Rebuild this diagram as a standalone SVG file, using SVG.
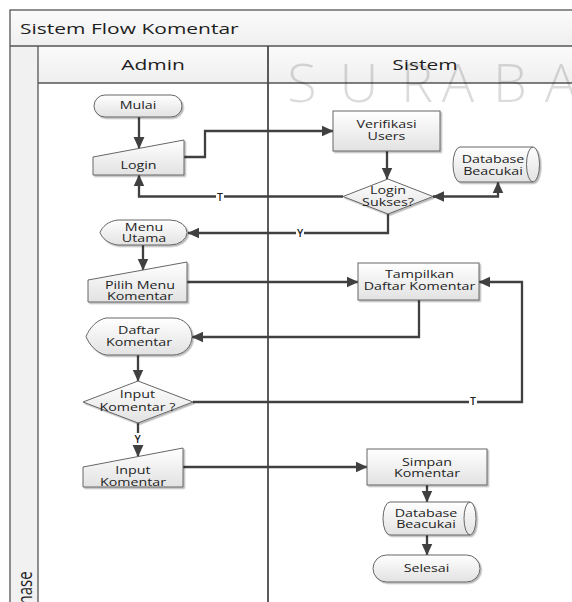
<svg xmlns="http://www.w3.org/2000/svg" width="572" height="602" viewBox="0 0 572 602">
  <defs>
    <linearGradient id="nodeFill" x1="0" y1="0" x2="0" y2="1">
      <stop offset="0" stop-color="#ffffff"/>
      <stop offset="1" stop-color="#e2e2e2"/>
    </linearGradient>
    <linearGradient id="bandFill" x1="0" y1="0" x2="0" y2="1">
      <stop offset="0" stop-color="#fbfbfb"/>
      <stop offset="1" stop-color="#efefef"/>
    </linearGradient>
    <filter id="shadow" x="-10%" y="-10%" width="130%" height="140%">
      <feDropShadow dx="1.5" dy="1.5" stdDeviation="0.7" flood-color="#000" flood-opacity="0.28"/>
    </filter>
    <marker id="arrow" markerUnits="userSpaceOnUse" markerWidth="12" markerHeight="12" viewBox="0 0 11 10" refX="10.5" refY="5" orient="auto-start-reverse">
      <path d="M0,0 L11,5 L0,10 Z" fill="#404040"/>
    </marker>
    <style>
      .frame { fill: none; stroke: #555; stroke-width: 1.3; }
      .lane { stroke: #4a4a4a; stroke-width: 1.8; }
      .node { fill: url(#nodeFill); stroke: #666; stroke-width: 1; filter: url(#shadow); }
      .line { fill: none; stroke: #404040; stroke-width: 2.3; }
      .inner { fill: none; stroke: #666; stroke-width: 1; }
      .t { font-family: "Open Sans", "DejaVu Sans", sans-serif; font-size: 10.2px; fill: #1e1e1e; text-anchor: middle; }
      .h { font-family: "Open Sans", "DejaVu Sans", sans-serif; font-size: 15px; fill: #1e1e1e; }
      .lbl { font-family: "Open Sans", "DejaVu Sans", sans-serif; font-size: 10.5px; font-weight: 600; fill: #222; text-anchor: middle; }
      .wm { font-family: "Open Sans", "DejaVu Sans", sans-serif; font-weight: 300; font-size: 54px; fill: #000; fill-opacity: 0.14; text-anchor: middle; }
    </style>
  </defs>

  <rect width="572" height="602" fill="#ffffff"/>

  <!-- swimlane frame -->
  <g id="pool">
    <rect x="10" y="10" width="575" height="36" fill="url(#bandFill)"/>
    <rect x="38" y="46" width="547" height="37" fill="url(#bandFill)"/>
    <rect x="10" y="46" width="28" height="564" fill="#f1f1f1"/>
    <rect class="frame" x="10" y="10" width="575" height="600"/>
    <line class="frame" x1="10" y1="46" x2="585" y2="46"/>
    <line class="frame" x1="38" y1="83" x2="585" y2="83"/>
    <line class="frame" x1="38" y1="46" x2="38" y2="610"/>
    <line class="lane" x1="268" y1="46" x2="268" y2="610"/>
    <text class="h" transform="translate(20 34) scale(1.4 1)">Sistem Flow Komentar</text>
    <text class="h" text-anchor="middle" transform="translate(153 70) scale(1.4 1)">Admin</text>
    <text class="h" text-anchor="middle" transform="translate(425 70) scale(1.4 1)">Sistem</text>
    <text class="h" font-size="10" transform="translate(32 613.5) rotate(-90) scale(1 1.3)">Phase</text>
  </g>

  <!-- connectors -->
  <g id="connectors">
    <path class="line" d="M139 117 V148.5" marker-end="url(#arrow)"/>
    <path class="line" d="M184 157 H205 V131 H333" marker-end="url(#arrow)"/>
    <path class="line" d="M387 151 V179" marker-end="url(#arrow)"/>
    <path class="line" d="M433 196.5 H498 V182" marker-start="url(#arrow)" marker-end="url(#arrow)"/>
    <path class="line" d="M343 196.5 H139 V175" marker-end="url(#arrow)"/>
    <path class="line" d="M388 214 V233 H188" marker-end="url(#arrow)"/>
    <path class="line" d="M143 245 V270" marker-end="url(#arrow)"/>
    <path class="line" d="M187 282 H358" marker-end="url(#arrow)"/>
    <path class="line" d="M419 300 V337 H192" marker-end="url(#arrow)"/>
    <path class="line" d="M138 355 V381" marker-end="url(#arrow)"/>
    <path class="line" d="M193 402 H522 V282 H479" marker-end="url(#arrow)"/>
    <path class="line" d="M138 423 V456.5" marker-end="url(#arrow)"/>
    <path class="line" d="M183 467 H367" marker-end="url(#arrow)"/>
    <path class="line" d="M427 485 V502" marker-end="url(#arrow)"/>
    <path class="line" d="M427 535 V555" marker-end="url(#arrow)"/>
    <!-- branch labels -->
    <rect x="216" y="191" width="8" height="12" fill="#fff"/>
    <text class="lbl" x="220" y="201">T</text>
    <rect x="296" y="227" width="8" height="12" fill="#fff"/>
    <text class="lbl" x="300" y="237">Y</text>
    <rect x="469" y="395" width="8" height="12" fill="#fff"/>
    <text class="lbl" x="473" y="405">T</text>
    <rect x="133" y="433" width="9" height="12" fill="#fff"/>
    <text class="lbl" x="137.5" y="443">Y</text>
  </g>

  <!-- Admin lane -->
  <g id="mulai">
    <rect class="node" x="94" y="95" width="88" height="22" rx="11"/>
    <text class="t" transform="translate(138 109) scale(1.4 1)">Mulai</text>
  </g>
  <g id="login">
    <path class="node" d="M93 157 L184 140 V175 H93 Z"/>
    <text class="t" transform="translate(138.5 168.5) scale(1.4 1)">Login</text>
  </g>
  <g id="menu-utama">
    <path class="node" d="M118 220 H170 A17 12.5 0 0 1 170 245 H118 C108 244 102 238 100 232.5 C102 227 108 221 118 220 Z"/>
    <text class="t" transform="translate(144 231) scale(1.4 1)"><tspan x="0" y="0">Menu</tspan><tspan x="0" y="11.5">Utama</tspan></text>
  </g>
  <g id="pilih-menu">
    <path class="node" d="M88 280 L187 262 V302 H88 Z"/>
    <text class="t" transform="translate(140 288.5) scale(1.4 1)"><tspan x="0" y="0">Pilih Menu</tspan><tspan x="0" y="11.5">Komentar</tspan></text>
  </g>
  <g id="daftar-komentar">
    <path class="node" d="M106 318 H173 A19 18.5 0 0 1 173 355 H106 C96 353 89 344 86 336.5 C89 329 96 320 106 318 Z"/>
    <text class="t" transform="translate(139 334) scale(1.4 1)"><tspan x="0" y="0">Daftar</tspan><tspan x="0" y="12.5">Komentar</tspan></text>
  </g>
  <g id="input-komentar-cek">
    <path class="node" d="M138 381 L193 402 L138 423 L83 402 Z"/>
    <text class="t" transform="translate(137.5 398) scale(1.4 1)"><tspan x="0" y="0">Input</tspan><tspan x="0" y="13">Komentar ?</tspan></text>
  </g>
  <g id="input-komentar">
    <path class="node" d="M83 467 L183 448 V487 H83 Z"/>
    <text class="t" transform="translate(133 474) scale(1.4 1)"><tspan x="0" y="0">Input</tspan><tspan x="0" y="12">Komentar</tspan></text>
  </g>

  <!-- Sistem lane -->
  <g id="verifikasi">
    <rect class="node" x="333" y="111" width="107" height="40"/>
    <text class="t" transform="translate(386.5 128) scale(1.4 1)"><tspan x="0" y="0">Verifikasi</tspan><tspan x="0" y="12.5">Users</tspan></text>
  </g>
  <g id="login-sukses">
    <path class="node" d="M388 179 L433 196.5 L388 214 L343 196.5 Z"/>
    <text class="t" transform="translate(388 193.5) scale(1.4 1)"><tspan x="0" y="0">Login</tspan><tspan x="0" y="13">Sukses?</tspan></text>
  </g>
  <g id="database-1">
    <path class="node" d="M460 147 H533 A6.5 17.5 0 0 1 533 182 H460 A7 17.5 0 0 1 460 147 Z"/>
    <path class="inner" d="M533 147 A6.5 17.5 0 0 0 533 182"/>
    <text class="t" transform="translate(493 163) scale(1.4 1)"><tspan x="0" y="0">Database</tspan><tspan x="0" y="12">Beacukai</tspan></text>
  </g>
  <g id="tampilkan">
    <rect class="node" x="358" y="263" width="121" height="37"/>
    <text class="t" transform="translate(419.5 278) scale(1.4 1)"><tspan x="0" y="0">Tampilkan</tspan><tspan x="0" y="12.5">Daftar Komentar</tspan></text>
  </g>
  <g id="simpan">
    <rect class="node" x="367" y="449" width="120" height="36"/>
    <text class="t" transform="translate(427 465.5) scale(1.4 1)"><tspan x="0" y="0">Simpan</tspan><tspan x="0" y="12">Komentar</tspan></text>
  </g>
  <g id="database-2">
    <path class="node" d="M390 502 H470 A6 16.5 0 0 1 470 535 H390 A7 16.5 0 0 1 390 502 Z"/>
    <path class="inner" d="M470 502 A6 16.5 0 0 0 470 535"/>
    <text class="t" transform="translate(426 516.5) scale(1.4 1)"><tspan x="0" y="0">Database</tspan><tspan x="0" y="12">Beacukai</tspan></text>
  </g>
  <g id="selesai">
    <rect class="node" x="373" y="555" width="107" height="27" rx="13.5"/>
    <text class="t" transform="translate(426.5 572) scale(1.4 1)">Selesai</text>
  </g>

  <!-- faint lettering across the lane header -->
  <text class="wm" x="302 359 417 458 510 561" y="102">SURABA</text>
</svg>
